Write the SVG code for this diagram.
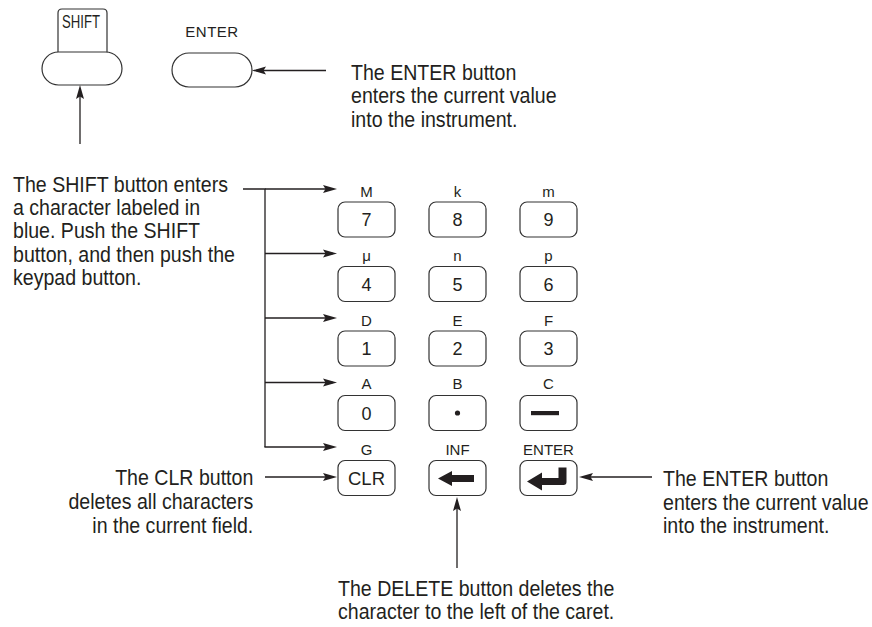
<svg xmlns="http://www.w3.org/2000/svg" width="872" height="627" viewBox="0 0 872 627">
<style>
  .t { font-family: "Liberation Sans", Arial, sans-serif; font-size: 22px; fill: #231f20; }
  .lbl { font-family: "Liberation Sans", Arial, sans-serif; font-size: 15px; fill: #231f20; text-anchor: middle; }
  .num { font-family: "Liberation Sans", Arial, sans-serif; font-size: 18px; fill: #231f20; text-anchor: middle; }
  .key { fill: #ffffff; stroke: #333333; stroke-width: 1.2; }
  .glyph { fill: #231f20; stroke: none; }
  .conn { fill: none; stroke: #231f20; stroke-width: 1.3; }
  .arr { marker-end: url(#ah); }
</style>
<defs>
  <marker id="ah" markerUnits="userSpaceOnUse" markerWidth="15" markerHeight="9" refX="10" refY="4.5" orient="auto">
    <path d="M0,0.5 L14,4.5 L0,8.5 L2.5,4.5 Z" fill="#231f20"/>
  </marker>
</defs>
<rect x="0" y="0" width="872" height="627" fill="#ffffff"/>

<!-- SHIFT button (top) -->
<g id="shift-button">
  <path class="key" d="M58,53 L58,13 Q58,9 62,9 L103,9 Q107,9 107,13 L107,53"/>
  <rect class="key" x="42" y="52" width="80" height="33" rx="16.5"/>
  <g transform="translate(62 0) scale(0.73 1)">
    <text x="0" y="28" style="font-family:'Liberation Sans', Arial, sans-serif; font-size:18px; fill:#231f20;">SHIFT</text>
  </g>
</g>

<!-- ENTER button (top) -->
<g id="enter-button-top">
  <text class="lbl" x="212" y="37" style="letter-spacing:0.5px">ENTER</text>
  <rect class="key" x="172" y="53" width="80" height="34" rx="17"/>
</g>

<!-- Keypad -->
<g id="key-7"><text class="lbl" x="366.5" y="196.5">M</text><rect class="key" x="338" y="202" width="57" height="35" rx="7"/><text class="num" x="366.5" y="226">7</text></g>
<g id="key-8"><text class="lbl" x="457.5" y="196.5">k</text><rect class="key" x="429" y="202" width="57" height="35" rx="7"/><text class="num" x="457.5" y="226">8</text></g>
<g id="key-9"><text class="lbl" x="548.5" y="196.5">m</text><rect class="key" x="520" y="202" width="57" height="35" rx="7"/><text class="num" x="548.5" y="226">9</text></g>

<g id="key-4"><text class="lbl" x="366.5" y="261">μ</text><rect class="key" x="338" y="266.5" width="57" height="35" rx="7"/><text class="num" x="366.5" y="290.5">4</text></g>
<g id="key-5"><text class="lbl" x="457.5" y="261">n</text><rect class="key" x="429" y="266.5" width="57" height="35" rx="7"/><text class="num" x="457.5" y="290.5">5</text></g>
<g id="key-6"><text class="lbl" x="548.5" y="261">p</text><rect class="key" x="520" y="266.5" width="57" height="35" rx="7"/><text class="num" x="548.5" y="290.5">6</text></g>

<g id="key-1"><text class="lbl" x="366.5" y="325.5">D</text><rect class="key" x="338" y="331" width="57" height="35" rx="7"/><text class="num" x="366.5" y="355">1</text></g>
<g id="key-2"><text class="lbl" x="457.5" y="325.5">E</text><rect class="key" x="429" y="331" width="57" height="35" rx="7"/><text class="num" x="457.5" y="355">2</text></g>
<g id="key-3"><text class="lbl" x="548.5" y="325.5">F</text><rect class="key" x="520" y="331" width="57" height="35" rx="7"/><text class="num" x="548.5" y="355">3</text></g>

<g id="key-0"><text class="lbl" x="366.5" y="389">A</text><rect class="key" x="338" y="395.5" width="57" height="35" rx="7"/><text class="num" x="366.5" y="419.5">0</text></g>
<g id="key-dot"><text class="lbl" x="457.5" y="389">B</text><rect class="key" x="429" y="395.5" width="57" height="35" rx="7"/><circle class="glyph" cx="457.5" cy="413" r="2.6"/></g>
<g id="key-minus"><text class="lbl" x="548.5" y="389">C</text><rect class="key" x="520" y="395.5" width="57" height="35" rx="7"/><rect class="glyph" x="531" y="411" width="28" height="4.2"/></g>

<g id="key-clr"><text class="lbl" x="366.5" y="455">G</text><rect class="key" x="338" y="460.5" width="57" height="35" rx="7"/><text class="num" x="366.5" y="484.5" style="font-size:18.5px">CLR</text></g>
<g id="key-delete"><text class="lbl" x="457.5" y="455">INF</text><rect class="key" x="429" y="460.5" width="57" height="35" rx="7"/><path class="glyph" d="M438,478.5 L452,471 L452,475 L474,475 L474,482 L452,482 L452,486 Z"/></g>
<g id="key-enter"><text class="lbl" x="548.5" y="455">ENTER</text><rect class="key" x="520" y="460.5" width="57" height="35" rx="7"/><path class="glyph" d="M527,481.5 L542,472.5 L542,478 L558.5,478 L558.5,467.5 L566.5,467.5 L566.5,482 Q566.5,485 563.5,485 L542,485 L542,490.5 Z"/></g>

<!-- Annotations -->
<g id="note-shift" transform="translate(13 0) scale(0.89 1)">
  <text class="t" x="0" y="191.7">The SHIFT button enters</text>
  <text class="t" x="0" y="215">a character labeled in</text>
  <text class="t" x="0" y="238.3">blue. Push the SHIFT</text>
  <text class="t" x="0" y="261.7">button, and then push the</text>
  <text class="t" x="0" y="285">keypad button.</text>
</g>
<g id="note-enter-top" transform="translate(351 0) scale(0.89 1)">
  <text class="t" x="0" y="80">The ENTER button</text>
  <text class="t" x="0" y="103.3">enters the current value</text>
  <text class="t" x="0" y="127">into the instrument.</text>
</g>
<g id="note-clr" transform="translate(253.3 0) scale(0.89 1)">
  <text class="t" x="0" y="485.5" text-anchor="end">The CLR button</text>
  <text class="t" x="0" y="509.5" text-anchor="end">deletes all characters</text>
  <text class="t" x="0" y="533.5" text-anchor="end">in the current field.</text>
</g>
<g id="note-enter-bottom" transform="translate(663 0) scale(0.89 1)">
  <text class="t" x="0" y="486.5">The ENTER button</text>
  <text class="t" x="0" y="510">enters the current value</text>
  <text class="t" x="0" y="533.5">into the instrument.</text>
</g>
<g id="note-delete" transform="translate(338 0) scale(0.89 1)">
  <text class="t" x="0" y="596">The DELETE button deletes the</text>
  <text class="t" x="0" y="619.5">character to the left of the caret.</text>
</g>

<!-- Connectors -->
<g id="connectors">
  <line class="conn arr" x1="80" y1="144" x2="80" y2="89"/>
  <line class="conn arr" x1="326" y1="70.5" x2="256" y2="70.5"/>
  <polyline class="conn" points="243,189 265,189 265,447"/>
  <line class="conn arr" x1="265" y1="189" x2="333" y2="189"/>
  <line class="conn arr" x1="265" y1="253.5" x2="333" y2="253.5"/>
  <line class="conn arr" x1="265" y1="318" x2="333" y2="318"/>
  <line class="conn arr" x1="265" y1="382.5" x2="333" y2="382.5"/>
  <line class="conn arr" x1="264.4" y1="447" x2="333" y2="447"/>
  <line class="conn arr" x1="265" y1="477" x2="333" y2="477"/>
  <line class="conn arr" x1="652" y1="477" x2="583" y2="477"/>
  <line class="conn arr" x1="457" y1="568" x2="457" y2="501"/>
</g>
</svg>
